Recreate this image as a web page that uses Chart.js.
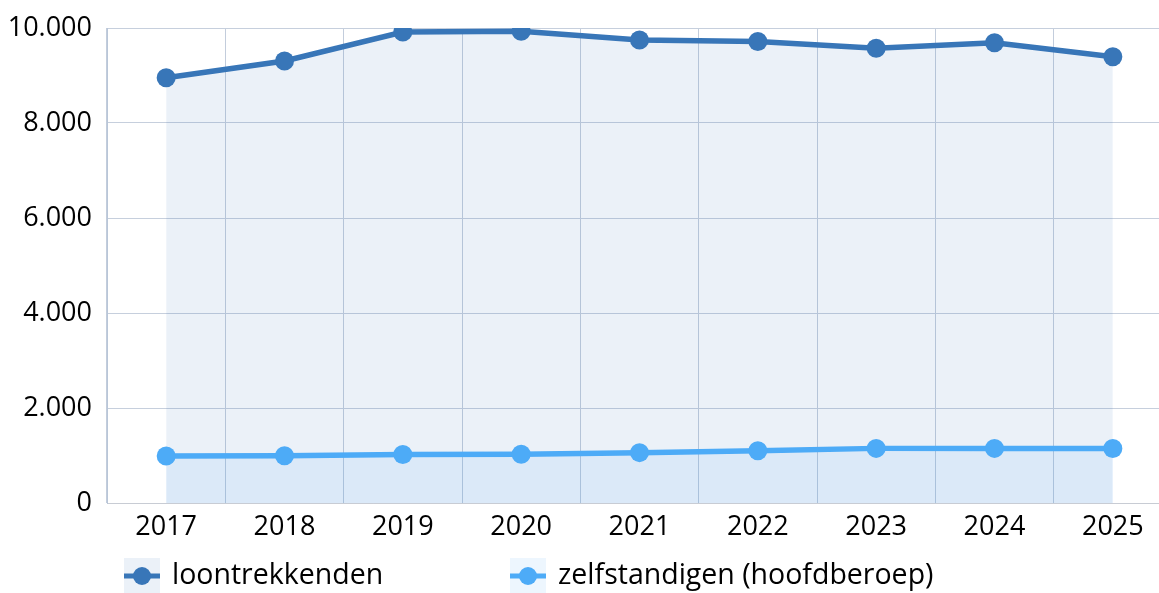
<!DOCTYPE html>
<html>
<head>
<meta charset="utf-8">
<script src="https://cdn.jsdelivr.net/npm/chart.js@4"></script>
<style>
  html, body { margin: 0; padding: 0; background: #fff; overflow: hidden; }
  #wrap { position: relative; width: 1172px; height: 593px; }
</style>
</head>
<body>
<div id="wrap"><canvas id="c"></canvas></div>
<script>
const years = ['2017', '2018', '2019', '2020', '2021', '2022', '2023', '2024', '2025'];
const loontrekkenden = [8954, 9305, 9916, 9930, 9747, 9715, 9572, 9691, 9396];
const zelfstandigen = [990, 995, 1022, 1028, 1060, 1100, 1150, 1150, 1148];
const seriesNames = ['loontrekkenden', 'zelfstandigen (hoofdberoep)'];
const yTicks = [0, 2000, 4000, 6000, 8000, 10000];

const FONT = '"Open Sans", "Noto Sans", sans-serif';
const C1 = 'rgb(56,118,184)';
const C2 = 'rgb(77,171,247)';
const F1 = 'rgba(56,118,184,0.1)';
const F2 = 'rgba(77,171,247,0.1)';

function fmt(v) {
  return String(v).replace(/\B(?=(\d{3})+(?!\d))/g, '.');
}

const boxLegend = {
  id: 'boxLegend',
  afterDraw(chart, args, opts) {
    const ctx = chart.ctx;
    chart.data.datasets.forEach((ds, i) => {
      const x = opts.left + i * opts.step;
      const y = opts.top;
      const s = opts.box;
      ctx.save();
      ctx.fillStyle = ds.backgroundColor;
      ctx.fillRect(x, y, s, s);
      ctx.strokeStyle = ds.borderColor;
      ctx.lineWidth = 5;
      ctx.beginPath();
      ctx.moveTo(x, y + s / 2);
      ctx.lineTo(x + s, y + s / 2);
      ctx.stroke();
      ctx.fillStyle = ds.borderColor;
      ctx.beginPath();
      ctx.arc(x + s / 2, y + s / 2, 9, 0, Math.PI * 2);
      ctx.fill();
      ctx.fillStyle = '#000';
      ctx.font = '28.5px ' + FONT;
      ctx.textBaseline = 'middle';
      ctx.textAlign = 'left';
      ctx.fillText(ds.label, x + s + 12, y + s / 2);
      ctx.restore();
    });
  }
};

new Chart(document.getElementById('c'), {
  type: 'line',
  data: {
    labels: years,
    datasets: [
      {
        label: seriesNames[0],
        data: loontrekkenden,
        borderColor: C1,
        backgroundColor: F1,
        pointBackgroundColor: C1,
        pointBorderColor: C1,
        borderWidth: 5.5,
        pointRadius: 9.5,
        pointBorderWidth: 0,
        pointHoverRadius: 9.5,
        fill: 'origin',
        tension: 0,
        order: 1
      },
      {
        label: seriesNames[1],
        data: zelfstandigen,
        borderColor: C2,
        backgroundColor: F2,
        pointBackgroundColor: C2,
        pointBorderColor: C2,
        borderWidth: 5.5,
        pointRadius: 9.5,
        pointBorderWidth: 0,
        pointHoverRadius: 9.5,
        fill: 'origin',
        tension: 0,
        order: 0
      }
    ]
  },
  options: {
    responsive: true,
    maintainAspectRatio: false,
    animation: false,
    devicePixelRatio: 1,
    layout: { autoPadding: false, padding: { top: 28, right: 0, bottom: 50, left: 0 } },
    plugins: {
      legend: { display: false },
      tooltip: { enabled: false },
      boxLegend: { left: 124, step: 386, top: 558, box: 36 }
    },
    scales: {
      x: {
        offset: true,
        grid: { offset: true, color: '#c3cddc', lineWidth: 1, drawTicks: false },
        border: { color: '#c8ccd4', width: 1 },
        ticks: { color: '#000', font: { family: FONT, size: 27 }, padding: 8, maxRotation: 0 },
        afterFit: (s) => { s.height = 40; s.paddingLeft = 0; s.paddingRight = 0; }
      },
      y: {
        min: 0,
        max: 10000,
        afterBuildTicks: (s) => { s.ticks = yTicks.map(v => ({ value: v })); },
        grid: { color: '#c6cfdd', lineWidth: 1, drawTicks: false },
        border: { color: '#b9c6d8', width: 1 },
        ticks: { color: '#000', font: { family: FONT, size: 27 }, padding: 15, callback: (v) => fmt(v) },
        afterFit: (s) => { s.width = 107; s.paddingTop = 0; s.paddingBottom = 0; }
      }
    }
  },
  plugins: [boxLegend]
});
</script>
</body>
</html>
